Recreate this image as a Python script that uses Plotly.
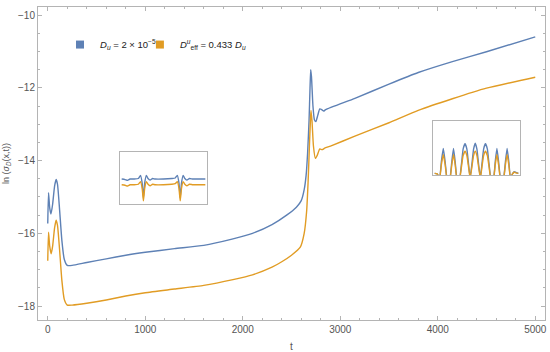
import plotly.graph_objects as go

# ---------------- data ----------------
t_blue = [0, 8, 20, 33, 50, 70, 86, 100, 120, 145, 170, 200, 250, 400, 600, 800, 1000,
          1300, 1600, 1900, 2100, 2300, 2450, 2550, 2600, 2630, 2650, 2665, 2680, 2690,
          2697, 2705, 2720, 2735, 2750, 2770, 2790, 2810, 2830, 2850, 3150, 3500, 3800,
          4150, 4500, 5000]
v_blue = [-15.73, -14.88, -15.30, -15.47, -15.20, -14.70, -14.52, -14.65, -15.30, -16.20,
          -16.72, -16.88, -16.88, -16.80, -16.70, -16.60, -16.52, -16.42, -16.33, -16.15,
          -16.00, -15.76, -15.50, -15.28, -15.10, -14.80, -14.40, -13.80, -12.90, -12.00,
          -11.50, -11.70, -12.50, -12.88, -12.93, -12.75, -12.58, -12.60, -12.64, -12.60,
          -12.29, -11.90, -11.58, -11.28, -11.01, -10.60]

t_orange = [0, 8, 20, 35, 50, 70, 86, 100, 120, 145, 170, 200, 250, 400, 600, 800, 1000,
            1300, 1600, 1900, 2100, 2300, 2400, 2500, 2590, 2630, 2655, 2670, 2685, 2695,
            2700, 2710, 2725, 2745, 2765, 2790, 2815, 2840, 2900, 3150, 3500, 3800, 4150,
            4500, 5000]
v_orange = [-16.75, -15.97, -16.35, -16.56, -16.35, -15.85, -15.64, -15.78, -16.40, -17.30,
            -17.82, -17.97, -17.97, -17.92, -17.83, -17.72, -17.63, -17.53, -17.43, -17.27,
            -17.14, -16.93, -16.78, -16.60, -16.38, -16.00, -15.40, -14.60, -13.50, -12.85,
            -12.62, -12.90, -13.60, -13.94, -13.85, -13.68, -13.70, -13.66, -13.60, -13.33,
            -12.96, -12.62, -12.30, -12.01, -11.71]

# inset 1 (normalised profile)
in1_x = [0.0, 0.04, 0.07, 0.10, 0.15, 0.20, 0.225, 0.245, 0.26, 0.275, 0.295, 0.315, 0.34,
         0.37, 0.40, 0.50, 0.60, 0.64, 0.665, 0.685, 0.70, 0.715, 0.735, 0.755, 0.78, 0.81,
         0.85, 0.92, 1.0]
in1_blue = [0.48, 0.47, 0.455, 0.48, 0.48, 0.49, 0.55, 0.40, 0.12, 0.40, 0.55, 0.49, 0.46,
            0.49, 0.48, 0.48, 0.49, 0.50, 0.55, 0.40, 0.12, 0.40, 0.55, 0.49, 0.46, 0.49,
            0.48, 0.48, 0.48]
in1_orange = [0.37, 0.36, 0.345, 0.37, 0.37, 0.38, 0.43, 0.30, 0.06, 0.30, 0.43, 0.38, 0.35,
              0.38, 0.37, 0.37, 0.38, 0.39, 0.43, 0.30, 0.06, 0.30, 0.43, 0.38, 0.35, 0.38,
              0.37, 0.37, 0.37]

# inset 2 (normalised profile)
in2_x = [0.00, 0.03, 0.06, 0.08, 0.103, 0.125, 0.145, 0.164, 0.185, 0.205, 0.225, 0.245,
         0.265, 0.294, 0.32, 0.34, 0.363, 0.385, 0.405, 0.424, 0.445, 0.465, 0.485, 0.505,
         0.525, 0.546, 0.565, 0.585, 0.607, 0.63, 0.65, 0.676, 0.705, 0.724, 0.744, 0.764,
         0.784, 0.805, 0.826, 0.846, 0.866, 0.886, 0.906, 0.93, 0.95, 0.97, 1.0]
in2_blue = [0.03, 0.02, -0.05, 0.25, 0.49, 0.25, -0.05, -0.15, -0.05, 0.25, 0.49, 0.25,
            -0.05, -0.10, 0.20, 0.48, 0.58, 0.48, 0.20, -0.05, 0.20, 0.48, 0.59, 0.48,
            0.20, -0.05, 0.20, 0.48, 0.58, 0.48, 0.20, -0.10, -0.05, 0.25, 0.49, 0.25,
            -0.05, -0.15, -0.05, 0.25, 0.49, 0.25, -0.05, 0.02, 0.06, 0.05, 0.03]
in2_orange = [0.03, 0.02, -0.06, 0.19, 0.38, 0.19, -0.06, -0.16, -0.06, 0.19, 0.38, 0.19,
              -0.06, -0.11, 0.15, 0.36, 0.44, 0.36, 0.15, -0.06, 0.15, 0.36, 0.44, 0.36,
              0.15, -0.06, 0.15, 0.36, 0.44, 0.36, 0.15, -0.11, -0.06, 0.19, 0.38, 0.19,
              -0.06, -0.16, -0.06, 0.19, 0.38, 0.19, -0.06, 0.02, 0.05, 0.04, 0.03]

x_ticks = [0, 1000, 2000, 3000, 4000, 5000]
y_ticks = [-18, -16, -14, -12, -10]

legend_blue = "<i>D<sub>u</sub></i> = 2 × 10<sup>−5</sup>"
legend_orange = "<i>D</i><sup><i>u</i></sup><sub>eff</sub> = 0.433 <i>D<sub>u</sub></i>"
x_title = "t"
y_title = "ln (<i>σ<sub>D</sub></i>(x,t))"

BLUE = "#5E81B5"
ORANGE = "#E19C24"
GRID = "#b4b4b4"
TXT = "#555555"

fig = go.Figure()

fig.add_trace(go.Scatter(x=t_blue, y=v_blue, mode="lines",
                         line=dict(color=BLUE, width=1.4, shape="spline", smoothing=0.5),
                         showlegend=False))
fig.add_trace(go.Scatter(x=t_orange, y=v_orange, mode="lines",
                         line=dict(color=ORANGE, width=1.4, shape="spline", smoothing=0.5),
                         showlegend=False))
# legend entries (two independent legends for exact placement)
fig.add_trace(go.Scatter(x=[None], y=[None], mode="markers", name=legend_blue,
                         marker=dict(symbol="square", size=8, color=BLUE), legend="legend"))
fig.add_trace(go.Scatter(x=[None], y=[None], mode="markers", name=legend_orange,
                         marker=dict(symbol="square", size=8, color=ORANGE), legend="legend2"))

# insets
for xs, yb, yo, xa, ya in [(in1_x, in1_blue, in1_orange, "x2", "y2"),
                           (in2_x, in2_blue, in2_orange, "x3", "y3")]:
    fig.add_trace(go.Scatter(x=xs, y=yb, mode="lines",
                             line=dict(color=BLUE, width=1.4, shape="spline", smoothing=0.4),
                             xaxis=xa, yaxis=ya, showlegend=False))
    fig.add_trace(go.Scatter(x=xs, y=yo, mode="lines",
                             line=dict(color=ORANGE, width=1.4, shape="spline", smoothing=0.4),
                             xaxis=xa, yaxis=ya, showlegend=False))

W, H = 550, 352
L, R, T, B = 38, 5, 7, 32
pw, ph = W - L - R, H - T - B


def dom_x(a, b):
    return [(a - L) / pw, (b - L) / pw]


def dom_y(top, bot):
    return [(H - B - bot) / ph, (H - B - top) / ph]


inset_axis = dict(showline=True, linecolor=GRID, linewidth=1, mirror=True, showgrid=False,
                  zeroline=False, showticklabels=False, ticks="", automargin=False)

legend_common = dict(orientation="h", y=0.88, xanchor="left", yanchor="middle",
                     bgcolor="rgba(0,0,0,0)", font=dict(size=9.5, color="#222222"),
                     itemwidth=30)

fig.update_layout(
    width=W, height=H,
    margin=dict(l=L, r=R, t=T, b=B),
    paper_bgcolor="white", plot_bgcolor="white",
    font=dict(family="Liberation Sans, Arial, sans-serif", size=10, color=TXT),
    xaxis=dict(range=[-100, 5100], tickvals=x_ticks, ticks="inside", ticklen=4,
               tickcolor=GRID, showline=True, linecolor=GRID, linewidth=1, mirror="allticks",
               showgrid=False, zeroline=False, automargin=False, ticklabeloverflow="allow",
               minor=dict(dtick=200, tick0=0, ticks="inside", ticklen=2, tickcolor=GRID),
               tickfont=dict(size=10, color=TXT)),
    yaxis=dict(range=[-18.38, -9.78], tickvals=y_ticks, ticks="inside", ticklen=4,
               tickcolor=GRID, showline=True, linecolor=GRID, linewidth=1, mirror="allticks",
               showgrid=False, zeroline=False, automargin=False, ticklabeloverflow="allow",
               minor=dict(dtick=0.5, tick0=-18, ticks="inside", ticklen=2, tickcolor=GRID),
               tickfont=dict(size=10, color=TXT)),
    xaxis2=dict(domain=dom_x(120, 207), range=[-0.02, 1.02], anchor="y2", **inset_axis),
    yaxis2=dict(domain=dom_y(152, 204), range=[0, 1], anchor="x2", **inset_axis),
    xaxis3=dict(domain=dom_x(433, 520), range=[-0.02, 1.02], anchor="y3", **inset_axis),
    yaxis3=dict(domain=dom_y(121, 175), range=[0, 1], anchor="x3", **inset_axis),
    legend=dict(x=0.0434, **legend_common),
    legend2=dict(x=0.201, **legend_common),
    annotations=[
        dict(text=x_title, xref="paper", yref="paper", x=0.5, y=-0.06,
             xanchor="center", yanchor="top", showarrow=False,
             font=dict(size=10, color=TXT)),
        dict(text=y_title, xref="paper", yref="paper", x=-0.062, y=0.5,
             xanchor="center", yanchor="middle", textangle=-90, showarrow=False,
             font=dict(size=9, color=TXT)),
    ],
)

fig.write_html("out.html", config={"displayModeBar": False},
               post_script="document.body.style.margin='0';")
